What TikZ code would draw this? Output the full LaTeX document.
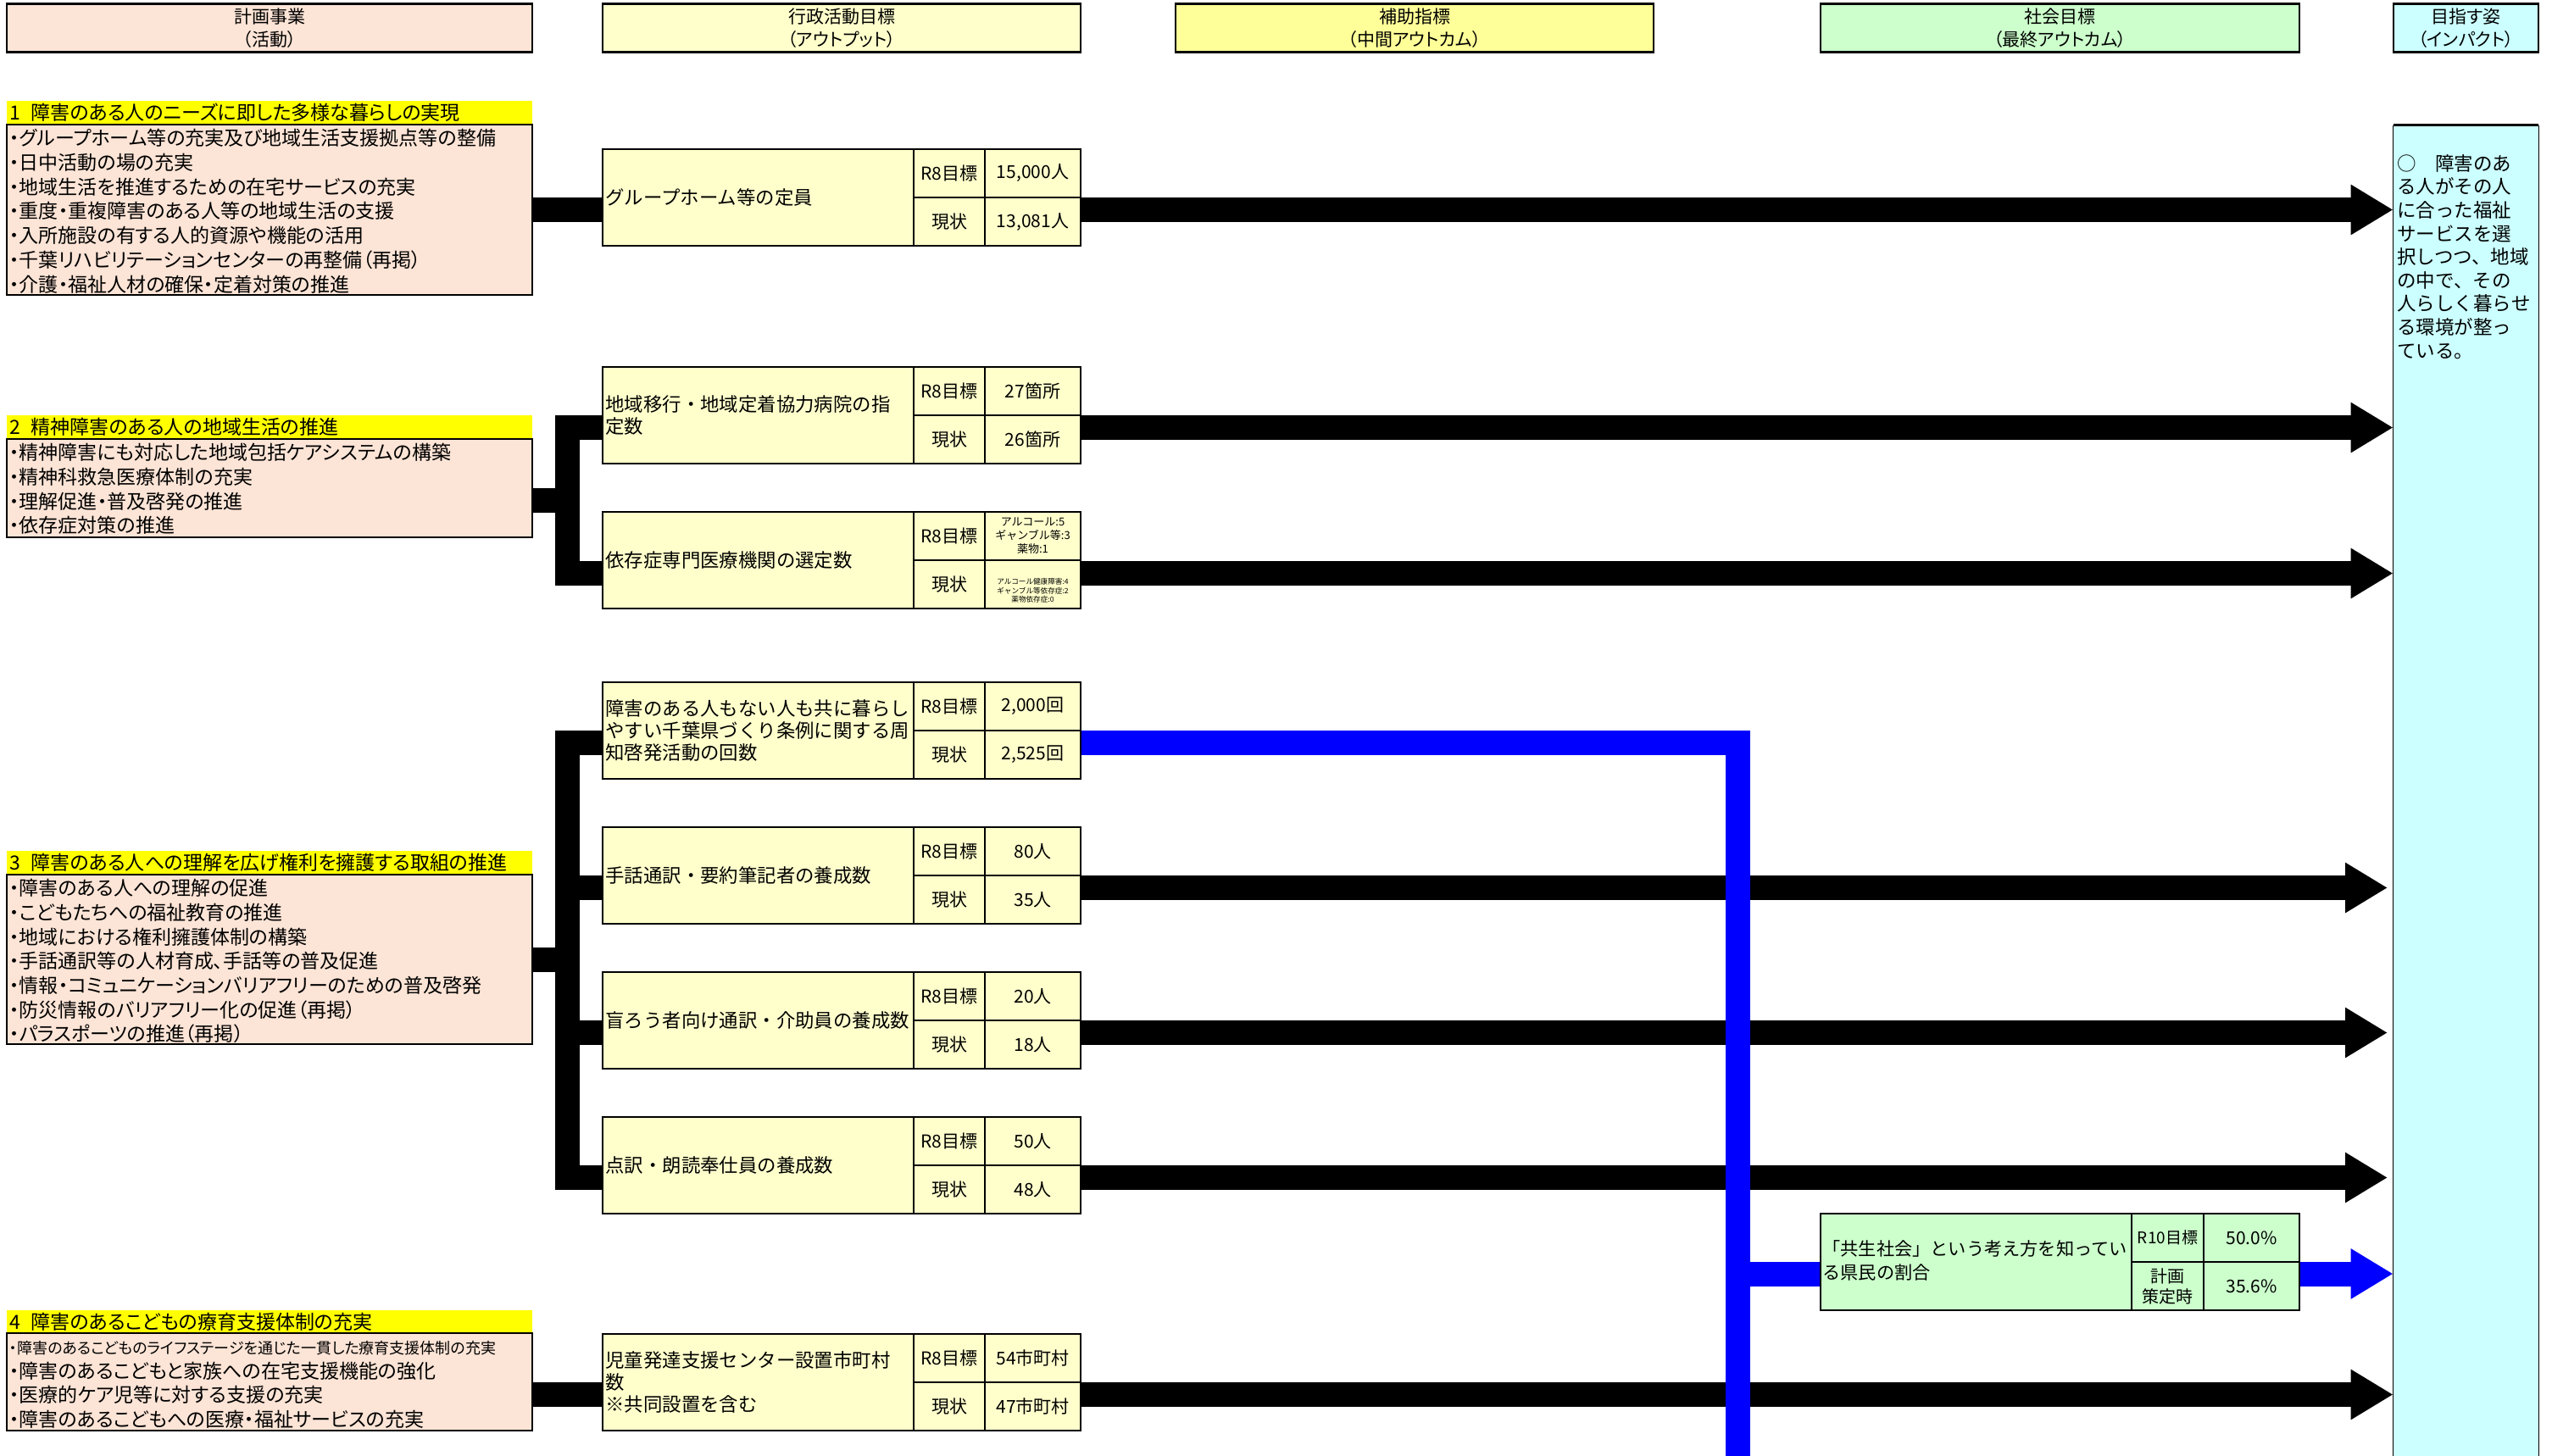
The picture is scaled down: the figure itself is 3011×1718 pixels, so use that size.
\documentclass[tikz,border=0pt]{standalone}
\usepackage{fontspec}
\setmainfont{Noto Sans CJK JP}
\newfontfamily\pfont[RawFeature=+palt]{Noto Sans CJK JP}
\usetikzlibrary{arrows.meta,fit}
\definecolor{pinkc}{RGB}{252,228,214}
\definecolor{lyel}{RGB}{255,255,204}
\definecolor{myel}{RGB}{255,255,153}
\definecolor{byel}{RGB}{255,255,0}
\definecolor{lgreen}{RGB}{204,255,204}
\definecolor{lcyan}{RGB}{204,255,255}
\definecolor{bblue}{RGB}{0,0,255}
\tikzset{
  box/.style={draw=black, line width=1pt, inner sep=0pt},
  hbox/.style={draw=black, line width=0.7pt, inner sep=0pt},
  bar/.style={line width=14.5pt, line join=miter},
  arr/.style={bar, -{Triangle[length=25pt,width=28pt]}},
  ln/.style={line width=1pt},
  thk/.style={line width=1.5pt},
  tln/.style={line width=0.6pt},
  hdrtxt/.style={font=\pfont\fontsize{10.5pt}{13.5pt}\selectfont, align=center, inner sep=0pt},
  cattxt/.style={font=\pfont\fontsize{11.5pt}{14pt}\selectfont, anchor=west, inner sep=0pt},
  listtxt/.style={font=\pfont\fontsize{11.5pt}{14.35pt}\selectfont, align=left, anchor=north west, inner sep=0pt},
  maintxt/.style={font=\fontsize{11.2pt}{13pt}\selectfont, align=left, anchor=west, inner sep=0pt},
  celltxt/.style={font=\fontsize{10.5pt}{12pt}\selectfont, align=center, inner sep=0pt},
  imptxt/.style={font=\fontsize{11.25pt}{13.8pt}\selectfont, align=left, anchor=north west, inner sep=0pt},
}
\newcommand\HdrBox[5]{% name, x1, x2, fill, text
  \node[hbox, fill=#4, fit={(#2,5) (#3,61)}] (#1) {};
  \draw[thk] (#1.north west) -- (#1.north east) (#1.south west) -- (#1.south east);
  \node[hdrtxt] (#1t) at (#1.center) {#5};
}
\newcommand\OutBox[5]{%
  \node[box, fill=lyel, fit={(711,#2) (1275,#2+114)}] (#1) {};
  \draw[tln] (1078,#2) -- (1078,#2+114) (1162,#2) -- (1162,#2+114);
  \draw[ln] (1078,#2+57) -- (1275,#2+57);
  \node[maintxt] (#1t) at (714,#2+57) {#3};
  \node[celltxt] (#1a) at (1120,#2+28.5) {R8目標};
  \node[celltxt] (#1b) at (1120,#2+85.5) {現状};
  \node[celltxt] (#1c) at (1218.5,#2+28.5) {#4};
  \node[celltxt] (#1d) at (1218.5,#2+85.5) {#5};
}
\begin{document}
\begin{tikzpicture}[x=0.5pt,y=-0.5pt]
\useasboundingbox (0,0) rectangle (3011,1718);
\fill[white] (0,0) rectangle (3011,1718);

% headers
\HdrBox{h1}{8}{628}{pinkc}{計画事業\\（活動）}
\HdrBox{h2}{711}{1275}{lyel}{行政活動目標\\（アウトプット）}
\HdrBox{h3}{1387}{1951}{myel}{補助指標\\（中間アウトカム）}
\HdrBox{h4}{2148}{2713}{lgreen}{社会目標\\（最終アウトカム）}
\HdrBox{h5}{2824}{2995}{lcyan}{目指す姿\\（インパクト）}

% impact panel
\node[fill=lcyan, inner sep=0pt, fit={(2824,148) (2995,1718)}] (panel) {};
\draw[line width=1.5pt] (panel.north west) -- (panel.north east);
\draw[tln] (panel.north west) -- (panel.south west) (panel.north east) -- (panel.south east);
\node[imptxt] (impt) at (2828,182) {○　障害のあ\\る人がその人\\に合った福祉\\サービスを選\\択しつつ、地域\\の中で、その\\人らしく暮らせ\\る環境が整っ\\ている。};

% category 1
\node[fill=byel, inner sep=0pt, fit={(8,119) (628,147)}] (c1) {};
\node[cattxt] (c1t) at (11,133) {1\hspace{0.55em}障害のある人のニーズに即した多様な暮らしの実現};
\node[box, fill=pinkc, fit={(8,147) (628,348)}] (pink1) {};
\node[listtxt] (pink1t) at (11,152) {・グループホーム等の充実及び地域生活支援拠点等の整備\\・日中活動の場の充実\\・地域生活を推進するための在宅サービスの充実\\・重度・重複障害のある人等の地域生活の支援\\・入所施設の有する人的資源や機能の活用\\・千葉リハビリテーションセンターの再整備（再掲）\\・介護・福祉人材の確保・定着対策の推進};

% category 2
\node[fill=byel, inner sep=0pt, fit={(8,490) (628,518)}] (c2) {};
\node[cattxt] (c2t) at (11,504) {2\hspace{0.55em}精神障害のある人の地域生活の推進};
\node[box, fill=pinkc, fit={(8,518) (628,634)}] (pink2) {};
\node[listtxt] (pink2t) at (11,523) {・精神障害にも対応した地域包括ケアシステムの構築\\・精神科救急医療体制の充実\\・理解促進・普及啓発の推進\\・依存症対策の推進};

% category 3
\node[fill=byel, inner sep=0pt, fit={(8,1004) (628,1032)}] (c3) {};
\node[cattxt] (c3t) at (11,1018) {3\hspace{0.55em}障害のある人への理解を広げ権利を擁護する取組の推進};
\node[box, fill=pinkc, fit={(8,1032) (628,1232)}] (pink3) {};
\node[listtxt] (pink3t) at (11,1037) {・障害のある人への理解の促進\\・こどもたちへの福祉教育の推進\\・地域における権利擁護体制の構築\\・手話通訳等の人材育成、手話等の普及促進\\・情報・コミュニケーションバリアフリーのための普及啓発\\・防災情報のバリアフリー化の促進（再掲）\\・パラスポーツの推進（再掲）};

% category 4
\node[fill=byel, inner sep=0pt, fit={(8,1546) (628,1573)}] (c4) {};
\node[cattxt] (c4t) at (11,1560) {4\hspace{0.55em}障害のあるこどもの療育支援体制の充実};
\node[box, fill=pinkc, fit={(8,1573) (628,1688)}] (pink4) {};
\node[listtxt] (pink4t) at (11,1578) {{\fontsize{9pt}{14.35pt}\selectfont\rule{0pt}{9.5pt}・障害のあるこどものライフステージを通じた一貫した療育支援体制の充実}\\・障害のあるこどもと家族への在宅支援機能の強化\\・医療的ケア児等に対する支援の充実\\・障害のあるこどもへの医療・福祉サービスの充実};

% output boxes
\OutBox{ob1}{176}{グループホーム等の定員}{15,000人}{13,081人}
\OutBox{ob2}{433}{地域移行・地域定着協力病院の指\\定数}{27箇所}{26箇所}
\OutBox{ob3}{604}{依存症専門医療機関の選定数}{}{}
\node[font=\fontsize{6.5pt}{8pt}\selectfont, align=center, inner sep=0pt] (ob3e) at (1218.5,632) {アルコール:5\\ギャンブル等:3\\薬物:1};
\node[font=\fontsize{4.3pt}{5.3pt}\selectfont, align=center, inner sep=0pt] (ob3f) at (1218.5,697) {アルコール健康障害:4\\ギャンブル等依存症:2\\薬物依存症:0};
\OutBox{ob4}{805}{障害のある人もない人も共に暮らし\\やすい千葉県づくり条例に関する周\\知啓発活動の回数}{2,000回}{2,525回}
\OutBox{ob5}{976}{手話通訳・要約筆記者の養成数}{80人}{35人}
\OutBox{ob6}{1147}{盲ろう者向け通訳・介助員の養成数}{20人}{18人}
\OutBox{ob7}{1318}{点訳・朗読奉仕員の養成数}{50人}{48人}
\OutBox{ob8}{1574}{児童発達支援センター設置市町村\\数\\※共同設置を含む}{54市町村}{47市町村}

% social goal box
\node[box, fill=lgreen, fit={(2148,1432) (2713,1546)}] (gb) {};
\draw[tln] (2515,1432) -- (2515,1546) (2600,1432) -- (2600,1546);
\draw[ln] (2515,1489) -- (2713,1489);
\node[maintxt, font=\fontsize{10.6pt}{14pt}\selectfont] (gbt) at (2150,1487) {「共生社会」という考え方を知ってい\\る県民の割合};
\node[celltxt, font=\fontsize{9.5pt}{12pt}\selectfont] (gba) at (2557.5,1460.5) {R10目標};
\node[celltxt, font=\fontsize{10pt}{12pt}\selectfont] (gbb) at (2557.5,1518) {計画\\策定時};
\node[celltxt] (gbc) at (2656.5,1460.5) {50.0\%};
\node[celltxt] (gbd) at (2656.5,1517.5) {35.6\%};

% left connectors
\draw[bar] (pink1.east) -- (pink1.east -| ob1.west);
\coordinate (j2) at (669.5,590.5);
\draw[bar] (pink2.east |- j2) -- (j2);
\draw[bar] (ob2.west |- 0,504.5) -- (669.5,504.5) -- (669.5,676.5) -- (ob3.west |- 0,676.5);
\coordinate (j3) at (669.5,1132);
\draw[bar] (pink3.east) -- (j3);
\draw[bar] (ob4.west |- 0,876.5) -- (669.5,876.5) -- (669.5,1389.5) -- (ob7.west |- 0,1389.5);
\draw[bar] (669.5,1047.5) -- (ob5.west |- 0,1047.5);
\draw[bar] (669.5,1218.5) -- (ob6.west |- 0,1218.5);
\draw[bar] (pink4.east |- 0,1645.5) -- (ob8.west |- 0,1645.5);

% right arrows
\draw[arr] (ob1.east |- 0,247.5) -- (panel.west |- 0,247.5);
\draw[arr] (ob2.east |- 0,504.5) -- (panel.west |- 0,504.5);
\draw[arr] (ob3.east |- 0,676.5) -- (panel.west |- 0,676.5);
\draw[arr] (ob5.east |- 0,1047.5) -- (2817,1047.5);
\draw[arr] (ob6.east |- 0,1218.5) -- (2817,1218.5);
\draw[arr] (ob7.east |- 0,1389.5) -- (2817,1389.5);
\draw[arr] (ob8.east |- 0,1645.5) -- (panel.west |- 0,1645.5);

% blue path
\coordinate (bj) at (2050,1503);
\draw[bar, bblue] (ob4.east |- 0,876.5) -- (2050,876.5) -- (2050,1718);
\draw[bar, bblue] (bj) -- (gb.west |- bj);
\draw[arr, bblue] (gb.east |- bj) -- (panel.west |- bj);
\end{tikzpicture}
\end{document}
